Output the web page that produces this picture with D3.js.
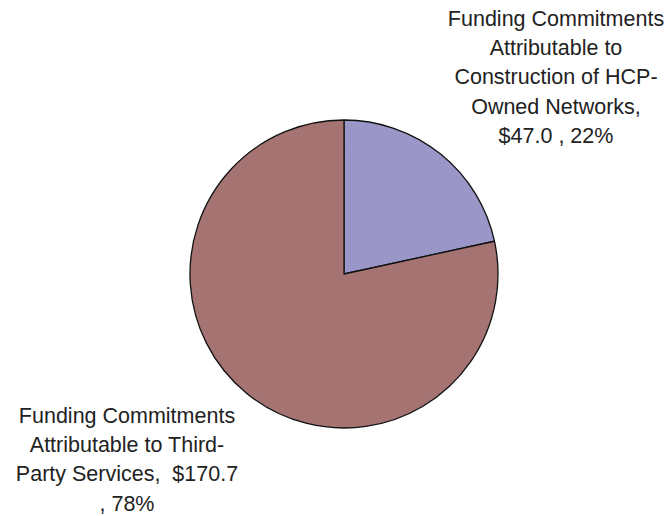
<!DOCTYPE html>
<html>
<head>
<meta charset="utf-8">
<script src="https://cdn.jsdelivr.net/npm/d3@7"></script>
<style>
  body { margin: 0; background: #fff; }
  svg { display: block; }
  text { font-family: "Liberation Sans", Arial, sans-serif; font-size: 21.5px; fill: #222; white-space: pre; }
</style>
</head>
<body>
<svg id="chart" width="672" height="516"></svg>
<script>
// Funding commitments, $ millions
const categories = [
  "Funding Commitments Attributable to Construction of HCP-Owned Networks",
  "Funding Commitments Attributable to Third-Party Services"
];
const values = [47.0, 170.7];
const percentLabels = ["22%", "78%"];
const valueLabels = ["$47.0", "$170.7"];
const colors = ["#9A96C8", "#A57472"];

// Label text, broken into lines as laid out beside the pie
const labelLines = [
  ["Funding Commitments", "Attributable to", "Construction of HCP-", "Owned Networks,", "$47.0 , 22%"],
  ["Funding Commitments", "Attributable to Third-", "Party Services,  $170.7", ", 78%"]
];
const labelAnchors = [[556, 26], [127, 423]];

const svg = d3.select("#chart");
const cx = 344, cy = 274, r = 154;

const pie = d3.pie().sort(null).value(d => d.value);
const arc = d3.arc().innerRadius(0).outerRadius(r);
const data = categories.map((c, i) => ({ name: c, value: values[i], color: colors[i] }));

const g = svg.append("g").attr("transform", `translate(${cx},${cy})`);
g.selectAll("path")
  .data(pie(data))
  .join("path")
  .attr("d", arc)
  .attr("fill", d => d.data.color)
  .attr("stroke", "#111")
  .attr("stroke-width", 1.3)
  .attr("stroke-linejoin", "round");

labelLines.forEach((lines, i) => {
  const t = svg.append("text")
    .attr("text-anchor", "middle")
    .attr("x", labelAnchors[i][0])
    .attr("y", labelAnchors[i][1]);
  lines.forEach((ln, j) => {
    t.append("tspan")
      .attr("x", labelAnchors[i][0])
      .attr("dy", j === 0 ? 0 : 29.2)
      .text(ln);
  });
});
</script>
</body>
</html>
